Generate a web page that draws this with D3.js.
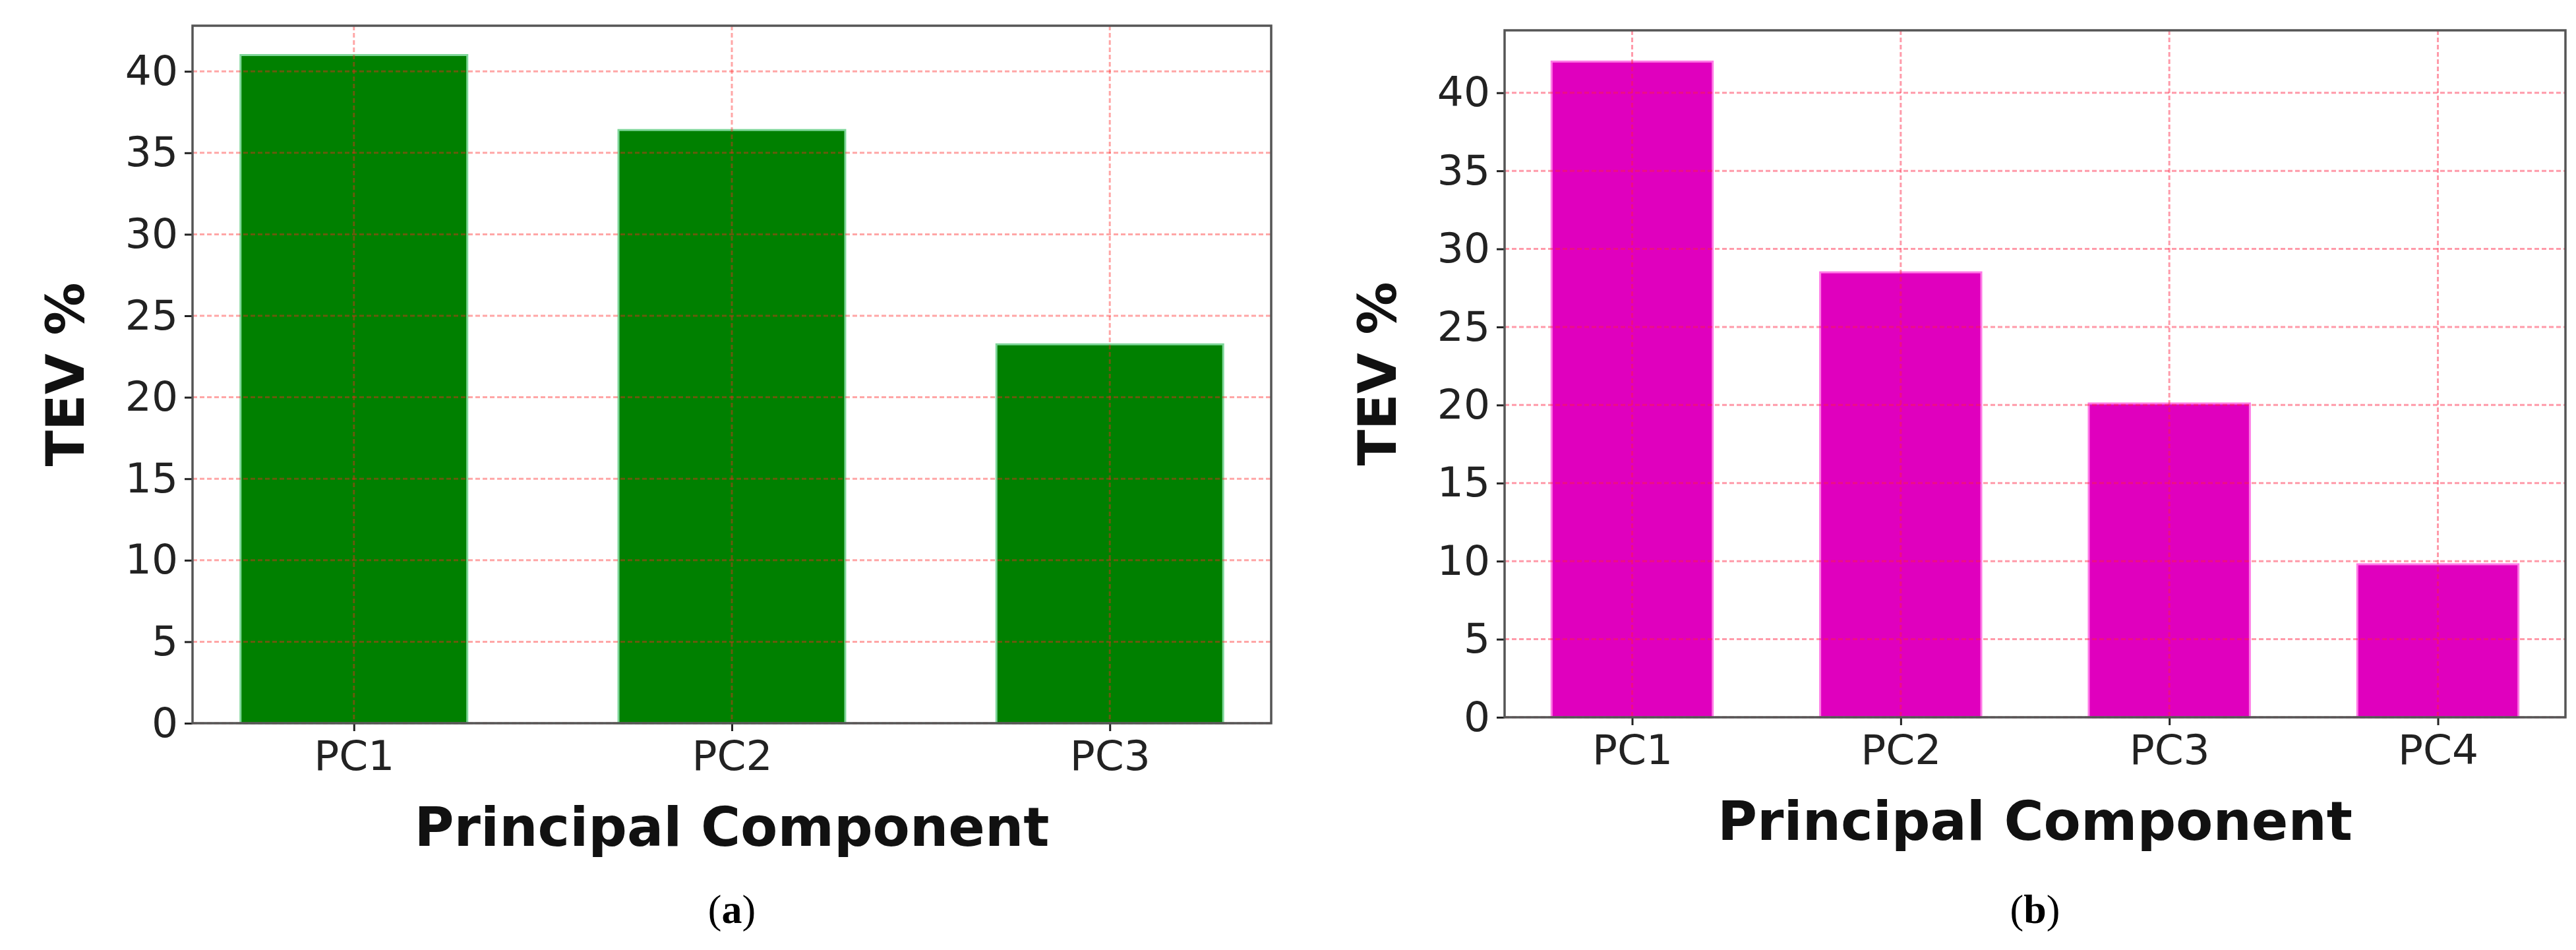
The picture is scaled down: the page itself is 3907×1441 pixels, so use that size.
<!DOCTYPE html>
<html><head><meta charset="utf-8">
<script src="https://cdn.jsdelivr.net/npm/d3@7"></script>
<style>body{margin:0;background:#fff}svg{display:block}</style>
</head><body>
<script>
const catsA = ["PC1","PC2","PC3"];
const valsA = [41.0, 36.4, 23.25];
const catsB = ["PC1","PC2","PC3","PC4"];
const valsB = [42.0, 28.5, 20.1, 9.8];
const yTicks = [0,5,10,15,20,25,30,35,40];
const xTitle = "Principal Component";
const yTitle = "TEV %";

const W = 3907, H = 1441;
const svg = d3.select("body").append("svg").attr("width", W).attr("height", H);

function panel(cfg){
  const {x0,x1,y0,y1,cats,vals,ymax,margin,color,edge,caption,gridColor,gridOp} = cfg;
  const g = svg.append("g");
  const n = cats.length;
  const x = d3.scaleLinear().domain([-margin, n-1+margin]).range([x0,x1]);
  const y = d3.scaleLinear().domain([0,ymax]).range([y1,y0]);
  const bw = x(0.6)-x(0);
  // bars
  g.selectAll("rect.bar").data(vals).join("rect")
    .attr("x",(d,i)=>x(i-0.3)).attr("width",bw)
    .attr("y",d=>y(d)).attr("height",d=>y(0)-y(d))
    .attr("fill",color).attr("stroke",edge).attr("stroke-width",3);
  // grid
  g.selectAll("line.hg").data(yTicks).join("line")
    .attr("x1",x0).attr("x2",x1).attr("y1",d=>y(d)).attr("y2",d=>y(d))
    .attr("stroke",gridColor).attr("stroke-opacity",gridOp).attr("stroke-width",3).attr("stroke-dasharray","7,4");
  g.selectAll("line.vg").data(cats).join("line")
    .attr("x1",(d,i)=>x(i)).attr("x2",(d,i)=>x(i)).attr("y1",y0).attr("y2",y1)
    .attr("stroke",gridColor).attr("stroke-opacity",gridOp).attr("stroke-width",3).attr("stroke-dasharray","7,4");
  // axes
  const ya = d3.axisLeft(y).tickValues(yTicks).tickSize(12).tickPadding(10);
  const yg = g.append("g").attr("transform",`translate(${x0},0)`).call(ya);
  const xa = d3.axisBottom(x).tickValues(d3.range(n)).tickFormat(i=>cats[i]).tickSize(12).tickPadding(14);
  const xg = g.append("g").attr("transform",`translate(0,${y1})`).call(xa);
  [yg,xg].forEach(a=>{
    a.select(".domain").remove();
    a.selectAll("line").attr("stroke","#222").attr("stroke-width",3);
    a.selectAll("text").attr("font-family","DejaVu Sans").attr("font-size",63).attr("fill","#222");
  });
  // frame
  g.append("rect").attr("x",x0).attr("y",y0).attr("width",x1-x0).attr("height",y1-y0)
    .attr("fill","none").attr("stroke","#555").attr("stroke-width",3.5);
  // titles
  g.append("text").attr("x",(x0+x1)/2).attr("y",y1+186).attr("text-anchor","middle")
    .attr("font-family","DejaVu Sans").attr("font-weight","bold").attr("font-size",82).attr("fill","#111").text(xTitle);
  g.append("text").attr("transform",`translate(${x0-165},${(y0+y1)/2}) rotate(-90)`)
    .attr("text-anchor","middle").attr("font-family","DejaVu Sans").attr("font-weight","bold")
    .attr("font-size",80).attr("fill","#111").text(yTitle);
  const c = g.append("text").attr("x",(x0+x1)/2).attr("y",1400).attr("text-anchor","middle")
    .attr("font-family","Liberation Serif").attr("font-size",62).attr("fill","#000");
  c.append("tspan").text("(");
  c.append("tspan").attr("font-weight","bold").text(caption);
  c.append("tspan").text(")");
}

panel({x0:292,x1:1928,y0:39,y1:1097,cats:catsA,vals:valsA,ymax:42.8,margin:0.427,
  color:"#008000",edge:"#7fd69a",caption:"a",gridColor:"#ff2020",gridOp:0.4});
panel({x0:2282,x1:3891,y0:46,y1:1088,cats:catsB,vals:valsB,ymax:44.0,margin:0.475,
  color:"#e000be",edge:"#ff7ae6",caption:"b",gridColor:"#ff2040",gridOp:0.45});
</script>
</body></html>
